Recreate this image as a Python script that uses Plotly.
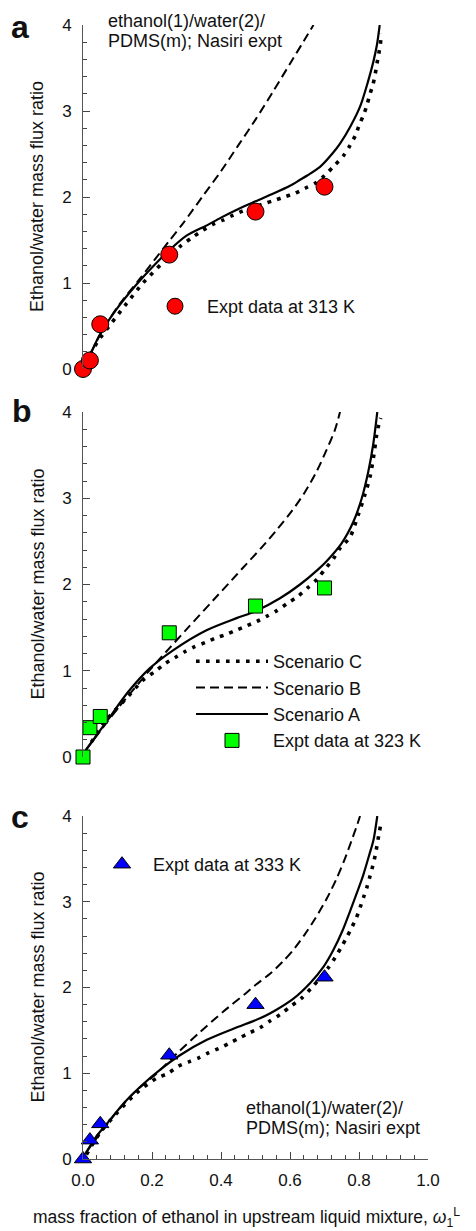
import plotly.graph_objects as go

# ---------------- data ----------------
# experimental points
expt_x = [0.0, 0.02, 0.05, 0.25, 0.5, 0.7]
expt313_y = [0.0, 0.10, 0.52, 1.33, 1.83, 2.12]
expt323_y = [0.0, 0.34, 0.47, 1.44, 1.75, 1.96]
expt333_y = [0.0, 0.22, 0.41, 1.21, 1.80, 2.12]

# panel a (313 K) model curves
a_A_x = [0.005, 0.02, 0.05, 0.1, 0.15, 0.2, 0.25, 0.3, 0.359, 0.4, 0.455, 0.5, 0.552, 0.6, 0.629, 0.65, 0.687, 0.726, 0.745, 0.775, 0.803, 0.823, 0.842, 0.852, 0.86]
a_A_y = [0.04, 0.16, 0.41, 0.71, 0.96, 1.18, 1.38, 1.55, 1.67, 1.76, 1.87, 1.95, 2.04, 2.13, 2.20, 2.25, 2.35, 2.52, 2.62, 2.82, 3.05, 3.30, 3.58, 3.77, 4.0]
a_B_x = [0.005, 0.05, 0.1, 0.165, 0.223, 0.25, 0.291, 0.349, 0.4, 0.45, 0.5, 0.55, 0.6, 0.65, 0.668]
a_B_y = [0.04, 0.40, 0.72, 1.05, 1.35, 1.49, 1.70, 2.02, 2.30, 2.60, 2.90, 3.22, 3.55, 3.88, 4.0]
a_C_x = [0.008, 0.041, 0.082, 0.126, 0.174, 0.227, 0.258, 0.286, 0.317, 0.346, 0.376, 0.405, 0.436, 0.465, 0.496, 0.523, 0.554, 0.583, 0.613, 0.643, 0.673, 0.70, 0.73, 0.755, 0.774, 0.79, 0.80, 0.813, 0.823, 0.832, 0.84, 0.847, 0.852, 0.857, 0.862, 0.864]
a_C_y = [0.06, 0.31, 0.53, 0.76, 1.0, 1.22, 1.34, 1.44, 1.53, 1.61, 1.68, 1.73, 1.79, 1.84, 1.88, 1.92, 1.96, 2.0, 2.04, 2.10, 2.16, 2.25, 2.37, 2.48, 2.6, 2.72, 2.83, 2.95, 3.07, 3.2, 3.3, 3.43, 3.55, 3.66, 3.78, 3.9]

# panel b (323 K) model curves
b_A_x = [0.008, 0.03, 0.077, 0.13, 0.194, 0.262, 0.358, 0.445, 0.5, 0.571, 0.629, 0.68, 0.706, 0.75, 0.784, 0.808, 0.827, 0.841, 0.853]
b_A_y = [0.08, 0.20, 0.46, 0.75, 1.03, 1.24, 1.47, 1.61, 1.69, 1.84, 2.00, 2.17, 2.27, 2.48, 2.73, 3.00, 3.31, 3.62, 4.0]
b_B_x = [0.008, 0.05, 0.1, 0.15, 0.194, 0.25, 0.3, 0.378, 0.431, 0.465, 0.518, 0.561, 0.605, 0.643, 0.677, 0.706, 0.730, 0.745]
b_B_y = [0.08, 0.30, 0.56, 0.80, 1.01, 1.26, 1.48, 1.82, 2.05, 2.20, 2.43, 2.63, 2.85, 3.07, 3.31, 3.56, 3.79, 4.0]
b_C_x = [0.024, 0.068, 0.121, 0.174, 0.208, 0.237, 0.266, 0.295, 0.324, 0.356, 0.385, 0.414, 0.444, 0.474, 0.503, 0.532, 0.563, 0.592, 0.622, 0.651, 0.68, 0.704, 0.726, 0.745, 0.774, 0.798, 0.817, 0.832, 0.843, 0.851, 0.857, 0.863]
b_C_y = [0.17, 0.43, 0.66, 0.89, 0.99, 1.08, 1.15, 1.22, 1.28, 1.33, 1.38, 1.42, 1.47, 1.52, 1.57, 1.63, 1.70, 1.78, 1.86, 1.96, 2.07, 2.19, 2.30, 2.42, 2.55, 2.81, 3.04, 3.25, 3.5, 3.73, 3.85, 3.93]

# panel c (333 K) model curves
c_A_x = [0.008, 0.04, 0.077, 0.12, 0.165, 0.223, 0.281, 0.359, 0.436, 0.513, 0.552, 0.61, 0.658, 0.697, 0.726, 0.753, 0.775, 0.80, 0.813, 0.83, 0.842, 0.853]
c_A_y = [0.07, 0.27, 0.45, 0.66, 0.84, 1.04, 1.21, 1.39, 1.52, 1.64, 1.72, 1.87, 2.05, 2.24, 2.44, 2.67, 2.90, 3.17, 3.32, 3.55, 3.72, 4.0]
c_B_x = [0.008, 0.05, 0.1, 0.15, 0.214, 0.272, 0.339, 0.407, 0.474, 0.5, 0.542, 0.581, 0.614, 0.643, 0.674, 0.707, 0.735, 0.759, 0.779, 0.795, 0.803]
c_B_y = [0.07, 0.30, 0.56, 0.78, 1.0, 1.23, 1.48, 1.72, 1.94, 2.03, 2.16, 2.31, 2.46, 2.62, 2.81, 3.04, 3.27, 3.50, 3.72, 3.90, 4.0]
c_C_x = [0.01, 0.048, 0.097, 0.155, 0.213, 0.247, 0.276, 0.305, 0.336, 0.365, 0.394, 0.424, 0.453, 0.482, 0.513, 0.542, 0.573, 0.602, 0.632, 0.661, 0.687, 0.711, 0.731, 0.75, 0.765, 0.779, 0.792, 0.803, 0.813, 0.823, 0.832, 0.84, 0.847, 0.852, 0.857, 0.862]
c_C_y = [0.05, 0.30, 0.53, 0.77, 0.94, 1.0, 1.08, 1.13, 1.18, 1.24, 1.29, 1.35, 1.41, 1.47, 1.53, 1.61, 1.69, 1.78, 1.87, 1.99, 2.11, 2.23, 2.35, 2.48, 2.59, 2.70, 2.81, 2.93, 3.05, 3.17, 3.30, 3.42, 3.54, 3.65, 3.77, 3.88]

y_ticks = [0, 1, 2, 3, 4]
x_ticks = [0.0, 0.2, 0.4, 0.6, 0.8, 1.0]

FONT = "Liberation Sans, Arial, sans-serif"
TXT = "#111"

fig = go.Figure()

panels = [
    ("x", "y", a_A_x, a_A_y, a_B_x, a_B_y, a_C_x, a_C_y, expt313_y, "Expt data at 313 K",
     dict(symbol="circle", size=17, color="#ff0000"), "legend"),
    ("x2", "y2", b_A_x, b_A_y, b_B_x, b_B_y, b_C_x, b_C_y, expt323_y, "Expt data at 323 K",
     dict(symbol="square", size=14, color="#00ff00"), "legend2"),
    ("x3", "y3", c_A_x, c_A_y, c_B_x, c_B_y, c_C_x, c_C_y, expt333_y, "Expt data at 333 K",
     dict(symbol="triangle-up", size=15, color="#0000ff"), "legend3"),
]

for i, (xa, ya, Ax, Ay, Bx, By, Cx, Cy, ey, ename, mk, leg) in enumerate(panels):
    show_lines = (i == 1)
    fig.add_trace(go.Scatter(x=Cx, y=Cy, xaxis=xa, yaxis=ya, mode="lines", name="Scenario C",
                             line=dict(color="black", width=3.6, dash="3.6px,6.4px", shape="spline", smoothing=0.8),
                             showlegend=show_lines, legend=leg))
    fig.add_trace(go.Scatter(x=Bx, y=By, xaxis=xa, yaxis=ya, mode="lines", name="Scenario B",
                             line=dict(color="black", width=2, dash="9px,5px", shape="spline", smoothing=0.8),
                             showlegend=show_lines, legend=leg))
    fig.add_trace(go.Scatter(x=Ax, y=Ay, xaxis=xa, yaxis=ya, mode="lines", name="Scenario A",
                             line=dict(color="black", width=2.2, shape="spline", smoothing=0.8),
                             showlegend=show_lines, legend=leg))
    fig.add_trace(go.Scatter(x=expt_x, y=ey, xaxis=xa, yaxis=ya, mode="markers", name=ename,
                             marker=dict(symbol=mk["symbol"], size=mk["size"], color=mk["color"],
                                         line=dict(color="black", width=1)),
                             cliponaxis=False, showlegend=True, legend=leg))

# geometry (pixels): plot x from 83 to 428, plot y from 25 to 1159
H_top, H_bot = 25, 1159
Hh = H_bot - H_top
def py(p):
    return (H_bot - p) / Hh
def px(p):
    return (p - 83) / 345

dom_a = [py(369), 1.0]
dom_b = [py(757), py(412)]
dom_c = [0.0, py(816)]

yaxis_common = dict(range=[0, 4], tickvals=y_ticks, ticks="inside", ticklen=7, tickwidth=1,
                    tickcolor="#444", showline=True, linecolor="#555", linewidth=1,
                    showgrid=False, zeroline=False, ticklabelstandoff=7,
                    tickfont=dict(size=17, color=TXT, family=FONT),
                    minor=dict(dtick=0.2, ticks="inside", ticklen=4, tickcolor="#444", showgrid=False))
xaxis_hidden = dict(range=[0, 1], visible=False, showgrid=False, zeroline=False)

legfont = dict(size=18, family=FONT, color=TXT)
fig.update_layout(
    width=476, height=1231,
    margin=dict(l=83, r=48, t=H_top, b=1231 - H_bot),
    paper_bgcolor="white", plot_bgcolor="white",
    font=dict(family=FONT, color=TXT),
    xaxis=dict(xaxis_hidden, domain=[0, 1], anchor="y"),
    xaxis2=dict(xaxis_hidden, domain=[0, 1], anchor="y2"),
    xaxis3=dict(range=[0, 1], domain=[0, 1], anchor="y3", tickvals=x_ticks, tickformat=".1f",
                ticks="inside", ticklen=7, tickwidth=1, tickcolor="#444", showline=True,
                linecolor="#555", linewidth=1, showgrid=False, zeroline=False,
                ticklabelstandoff=6, tickfont=dict(size=17, color=TXT, family=FONT),
                minor=dict(dtick=0.04, ticks="inside", ticklen=4, tickcolor="#444", showgrid=False)),
    yaxis=dict(yaxis_common, domain=dom_a, anchor="x"),
    yaxis2=dict(yaxis_common, domain=dom_b, anchor="x2"),
    yaxis3=dict(yaxis_common, domain=dom_c, anchor="x3"),
    legend=dict(x=px(143), y=py(288), xanchor="left", yanchor="top", bgcolor="rgba(0,0,0,0)",
                font=legfont, itemwidth=54),
    legend2=dict(x=px(191), y=py(643), xanchor="left", yanchor="top", bgcolor="rgba(0,0,0,0)",
                 font=legfont, itemwidth=72, traceorder="normal"),
    legend3=dict(x=px(91), y=py(846), xanchor="left", yanchor="top", bgcolor="rgba(0,0,0,0)",
                 font=legfont, itemwidth=52),
)

annots = []
# panel letters
for letter, (lx, ly) in zip(["a", "b", "c"], [(20, 27), (22, 411), (20, 817)]):
    annots.append(dict(text="<b>%s</b>" % letter, x=px(lx), y=py(ly), xref="paper", yref="paper",
                       xanchor="center", yanchor="middle", showarrow=False,
                       font=dict(size=32, family=FONT, color=TXT)))
# y-axis titles
for cy in [(25 + 369) / 2, (412 + 757) / 2, (816 + 1159) / 2]:
    annots.append(dict(text="Ethanol/water mass flux ratio", x=px(37), y=py(cy), xref="paper", yref="paper",
                       xanchor="center", yanchor="middle", textangle=-90, showarrow=False,
                       font=dict(size=18, family=FONT, color=TXT)))
# system labels
for txt, (tx, ty) in [("ethanol(1)/water(2)/", (106, 21)), ("PDMS(m); Nasiri expt", (106, 41)),
                      ("ethanol(1)/water(2)/", (244, 1108)), ("PDMS(m); Nasiri expt", (244, 1128))]:
    annots.append(dict(text=txt, x=px(tx), y=py(ty), xref="paper", yref="paper",
                       xanchor="left", yanchor="middle", showarrow=False,
                       font=dict(size=18, family=FONT, color=TXT)))
# x-axis title
annots.append(dict(text="mass fraction of ethanol in upstream liquid mixture, <i>ω</i><sub>1</sub><sup>L</sup>",
                   x=px(31), y=py(1217), xref="paper", yref="paper", xanchor="left", yanchor="middle",
                   showarrow=False, font=dict(size=17.5, family=FONT, color=TXT)))
fig.update_layout(annotations=annots)

fig.write_html("out.html", config={"displayModeBar": False},
               post_script="document.body.style.margin='0px';")
